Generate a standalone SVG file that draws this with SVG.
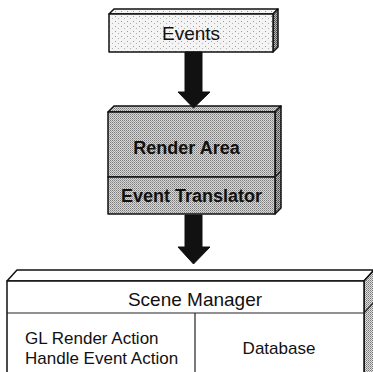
<svg xmlns="http://www.w3.org/2000/svg" width="373" height="372" viewBox="0 0 373 372">
  <defs>
    <!-- light stipple for the Events block -->
    <pattern id="stipple" width="6" height="5" patternUnits="userSpaceOnUse">
      <rect width="6" height="5" fill="#f4f4f4"/>
      <rect x="1" y="1" width="1" height="1" fill="#9a9a9a"/>
      <rect x="4" y="3" width="1" height="1" fill="#b0b0b0"/>
    </pattern>
    <!-- medium halftone for the Render Area block -->
    <pattern id="halftone" width="2" height="2" patternUnits="userSpaceOnUse">
      <rect width="2" height="2" fill="#d8d8d8"/>
      <rect width="1" height="1" fill="#7a7a7a"/>
      <rect x="1" y="1" width="1" height="1" fill="#a0a0a0"/>
    </pattern>
    <!-- darker halftone for side faces -->
    <pattern id="side" width="2" height="2" patternUnits="userSpaceOnUse">
      <rect width="2" height="2" fill="#b8b8b8"/>
      <rect width="1" height="1" fill="#444"/>
      <rect x="1" y="1" width="1" height="1" fill="#666"/>
    </pattern>
    <pattern id="sideLight" width="2" height="2" patternUnits="userSpaceOnUse">
      <rect width="2" height="2" fill="#e0e0e0"/>
      <rect width="1" height="1" fill="#777"/>
      <rect x="1" y="1" width="1" height="1" fill="#999"/>
    </pattern>
  </defs>
  <style>
    .edge { stroke: #111; stroke-width: 1.5; stroke-linejoin: round; }
    .thin { stroke: #222; stroke-width: 1.2; fill: none; }
    .label { font-family: "Liberation Sans", Arial, sans-serif; fill: #111; }
    .reg { font-size: 19px; }
    .small { font-size: 17px; }
    .bold { font-size: 18px; font-weight: bold; }
    .arrow { fill: #111; stroke: #111; stroke-width: 1; stroke-linejoin: miter; }
  </style>

  <rect width="373" height="372" fill="#ffffff"/>

  <!-- Events block -->
  <g id="events">
    <polygon class="edge" points="109,14 114,9 278,9 273,14" fill="url(#stipple)"/>
    <polygon class="edge" points="273,14 278,9 278,47 273,52" fill="url(#side)"/>
    <rect class="edge" x="109" y="14" width="164" height="38" fill="url(#stipple)"/>
    <text class="label reg" x="191" y="40" text-anchor="middle">Events</text>
  </g>

  <!-- Render Area / Event Translator block -->
  <g id="render-area">
    <polygon class="edge" points="108,112 114,106 281,106 275,112" fill="url(#halftone)"/>
    <polygon class="edge" points="275,112 281,106 281,208 275,214" fill="url(#side)"/>
    <rect class="edge" x="108" y="112" width="167" height="65" fill="url(#halftone)"/>
    <text class="label bold" x="186.5" y="153.5" text-anchor="middle">Render Area</text>
  </g>
  <g id="event-translator">
    <rect class="edge" x="108" y="177" width="167" height="37" fill="url(#halftone)"/>
    <line class="thin" x1="275" y1="177" x2="281" y2="171"/>
    <text class="label bold" x="191.5" y="202" text-anchor="middle">Event Translator</text>
  </g>

  <!-- Scene Manager block -->
  <g id="scene-manager">
    <polygon class="edge" points="7,281 17,270 374,270 364,281" fill="#ffffff"/>
    <polygon class="edge" points="364,281 374,270 374,373 364,373" fill="url(#sideLight)"/>
    <rect class="edge" x="7" y="281" width="357" height="93" fill="#ffffff"/>
    <line class="thin" x1="7" y1="313" x2="364" y2="313"/>
    <line class="thin" x1="364" y1="313" x2="374" y2="302"/>
    <text class="label reg" x="195" y="306" text-anchor="middle">Scene Manager</text>
  </g>
  <g id="actions">
    <line class="thin" x1="195" y1="313" x2="195" y2="373"/>
    <text class="label small" x="25" y="344">GL Render Action</text>
    <text class="label small" x="25" y="364">Handle Event Action</text>
  </g>
  <g id="database">
    <text class="label small" x="279" y="354" text-anchor="middle">Database</text>
  </g>

  <!-- Connectors: thick block arrows -->
  <g id="connectors">
    <polygon class="arrow" points="185,52 202,52 202,92 210,92 193.5,108 178,92 185,92"/>
    <polygon class="arrow" points="185,215 202,215 202,247 210,247 193.5,264 178,247 185,247"/>
  </g>
</svg>
